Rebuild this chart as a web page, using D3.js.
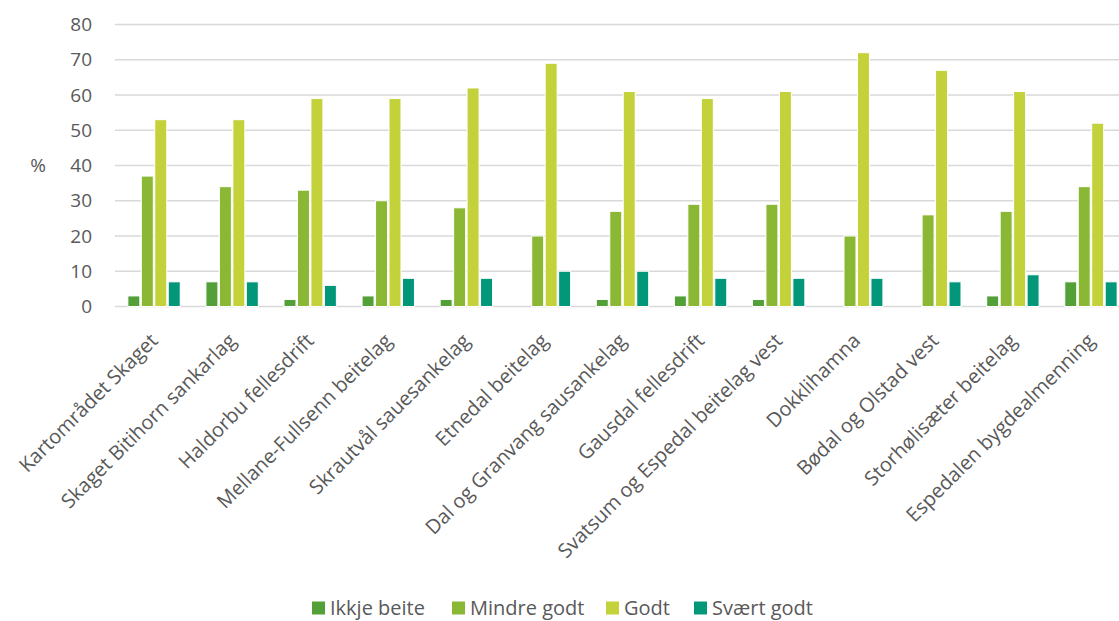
<!DOCTYPE html>
<html>
<head>
<meta charset="utf-8">
<script src="https://d3js.org/d3.v7.min.js"></script>
<style>
  body { margin: 0; background: #fff; }
  svg text { font-family: "Open Sans", sans-serif; fill: #595959; }
</style>
</head>
<body>
<svg id="chart" width="1119" height="621"></svg>
<script>
const categories = [
  'Kartområdet Skaget', 'Skaget Bitihorn sankarlag', 'Haldorbu fellesdrift',
  'Mellane-Fullsenn beitelag', 'Skrautvål sauesankelag', 'Etnedal beitelag',
  'Dal og Granvang sausankelag', 'Gausdal fellesdrift', 'Svatsum og Espedal beitelag vest',
  'Dokklihamna', 'Bødal og Olstad vest', 'Storhølisæter beitelag', 'Espedalen bygdealmenning'
];
const seriesNames = ['Ikkje beite', 'Mindre godt', 'Godt', 'Svært godt'];
const ikkjeBeite  = [3, 7, 2, 3, 2, 0, 2, 3, 2, 0, 0, 3, 7];
const mindreGodt  = [37, 34, 33, 30, 28, 20, 27, 29, 29, 20, 26, 27, 34];
const godt        = [53, 53, 59, 59, 62, 69, 61, 59, 61, 72, 67, 61, 52];
const svaertGodt  = [7, 7, 6, 8, 8, 10, 10, 8, 8, 8, 7, 9, 7];
const yTicks = [0, 10, 20, 30, 40, 50, 60, 70, 80];
const colors = ['#54a038', '#8bb834', '#c3d13b', '#03977a'];

const values = [ikkjeBeite, mindreGodt, godt, svaertGodt];
const rows = categories.map((c, i) => ({cat: c, vals: values.map(v => v[i])}));

const svg = d3.select('#chart');
const W = 1119, H = 621;
// plot area runs a little past the right edge (cropped in the original)
const plotLeft = 115, plotRight = 1130;

const x = d3.scaleBand().domain(categories).range([plotLeft, plotRight]).paddingInner(0.31).paddingOuter(0.155);
const x1 = d3.scaleBand().domain(seriesNames).range([0, x.bandwidth()]);
const y = d3.scaleLinear().domain([0, 80]).range([306.5, 24.5]);

// gridlines
svg.append('g')
  .selectAll('line')
  .data(yTicks)
  .join('line')
  .attr('x1', plotLeft).attr('x2', W)
  .attr('y1', d => y(d)).attr('y2', d => y(d))
  .attr('stroke', '#d9d9d9').attr('stroke-width', 1.5);

// y labels
svg.append('g')
  .selectAll('text')
  .data(yTicks)
  .join('text')
  .attr('x', 92).attr('y', d => y(d))
  .attr('dy', '0.35em')
  .attr('text-anchor', 'end')
  .attr('font-size', 19)
  .text(d => d);

svg.append('text')
  .attr('x', 38).attr('y', y(40))
  .attr('dy', '0.35em')
  .attr('text-anchor', 'middle')
  .attr('font-size', 19)
  .text('%');

// bars
const groups = svg.append('g')
  .selectAll('g')
  .data(rows)
  .join('g')
  .attr('transform', d => `translate(${x(d.cat)},0)`);

groups.selectAll('rect')
  .data(d => d.vals.map((v, k) => ({name: seriesNames[k], v, k})))
  .join('rect')
  .attr('x', d => x1(d.name) + 0.75)
  .attr('width', x1.bandwidth() - 1.5)
  .attr('y', d => y(d.v))
  .attr('height', d => y(0) - y(d.v))
  .attr('fill', d => colors[d.k])
  .attr('stroke', '#fff')
  .attr('stroke-width', d => d.v > 0 ? 1 : 0);

// category labels
svg.append('g')
  .selectAll('text')
  .data(categories)
  .join('text')
  .attr('transform', d => `translate(${x(d) + x.bandwidth() / 2},${337}) rotate(-45)`)
  .attr('text-anchor', 'end')
  .attr('dy', '0.35em')
  .attr('font-size', 20)
  .text(d => d);

// legend
const legendX = [312, 452, 606, 694];
const leg = svg.append('g')
  .selectAll('g')
  .data(seriesNames)
  .join('g')
  .attr('transform', (d, i) => `translate(${legendX[i]},${608})`);
leg.append('rect')
  .attr('x', 0).attr('y', -6.5).attr('width', 13).attr('height', 13)
  .attr('fill', (d, i) => colors[i]);
leg.append('text')
  .attr('x', 18).attr('dy', '0.35em')
  .attr('font-size', 20)
  .text(d => d);
</script>
</body>
</html>
